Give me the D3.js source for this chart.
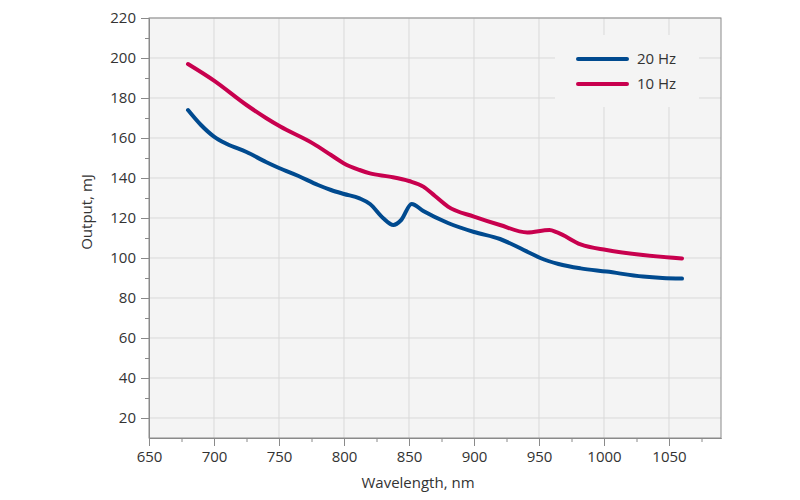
<!DOCTYPE html>
<html>
<head>
<meta charset="utf-8">
<script src="https://cdn.jsdelivr.net/npm/d3@7"></script>
<style>
  body { margin: 0; background: #fff; }
  svg text { font-family: "Open Sans", "Noto Sans", sans-serif; fill: #333; }
</style>
</head>
<body>
<svg id="chart" width="800" height="500"></svg>
<script>
// wavelength (nm) / output (mJ)
const wl20 = [680, 690, 700, 710, 725, 740, 750, 765, 780, 790, 800, 812, 820, 830, 838, 844, 852, 861, 880, 900, 920, 943, 951, 965, 982, 1002, 1030, 1045, 1060];
const out20 = [174, 166.5, 160.7, 157, 153, 148, 145, 141, 136.5, 134, 132, 129.8, 127, 120, 116.5, 119, 127, 123.5, 117.5, 113, 109.5, 102.5, 100, 97, 94.8, 93.2, 90.7, 90, 89.7];

const wl10 = [680, 700, 725, 740, 751, 776, 790, 800, 812, 820, 835, 850, 861, 870, 880, 900, 920, 941, 958, 964, 982, 1002, 1030, 1060];
const out10 = [197, 188.7, 176.5, 170, 165.7, 157.3, 151.5, 147.3, 144, 142.3, 140.7, 138.5, 135.7, 131, 125.7, 120.7, 116.5, 112.8, 114, 112.8, 106.8, 104, 101.5, 99.8];

const xTicks = [650, 700, 750, 800, 850, 900, 950, 1000, 1050];
const xMinor = [675, 725, 775, 825, 875, 925, 975, 1025, 1075];
const yTicks = [20, 40, 60, 80, 100, 120, 140, 160, 180, 200, 220];
const yMinor = [30, 50, 70, 90, 110, 130, 150, 170, 190, 210];

const seriesNames = ['20 Hz', '10 Hz'];
const colors = ['#004a8f', '#c8004e'];

const margin = { top: 18, right: 79, bottom: 62, left: 149 };
const width = 800 - margin.left - margin.right;
const height = 500 - margin.top - margin.bottom;
const fontSize = 15;

const svg = d3.select('#chart');
const g = svg.append('g').attr('transform', `translate(${margin.left},${margin.top})`);

const x = d3.scaleLinear().domain([650, 1090]).range([0, width]);
const y = d3.scaleLinear().domain([10, 220]).range([height, 0]);

// plot background
g.append('rect')
  .attr('width', width).attr('height', height)
  .attr('fill', '#f4f4f4');

// grid
g.append('g').selectAll('line').data(xTicks.slice(1)).join('line')
  .attr('x1', d => x(d)).attr('x2', d => x(d))
  .attr('y1', 0).attr('y2', height)
  .attr('stroke', '#d9d9d9').attr('stroke-width', 1);
g.append('g').selectAll('line').data(yTicks).join('line')
  .attr('x1', 0).attr('x2', width)
  .attr('y1', d => y(d)).attr('y2', d => y(d))
  .attr('stroke', '#d9d9d9').attr('stroke-width', 1);

// legend box covers the grid
const legend = g.append('g').attr('transform', `translate(${555 - margin.left},${35 - margin.top})`);
legend.append('rect').attr('width', 144).attr('height', 72).attr('fill', '#f4f4f4');

// lines
const line = d3.line()
  .x(d => x(d[0]))
  .y(d => y(d[1]))
  .curve(d3.curveMonotoneX);

const series = [d3.zip(wl20, out20), d3.zip(wl10, out10)];
g.selectAll('.series').data(series).join('path')
  .attr('class', 'series')
  .attr('d', line)
  .attr('fill', 'none')
  .attr('stroke', (d, i) => colors[i])
  .attr('stroke-width', 4)
  .attr('stroke-linecap', 'round')
  .attr('stroke-linejoin', 'round');

// border
g.append('rect')
  .attr('width', width).attr('height', height)
  .attr('fill', 'none').attr('stroke', '#8a8a8a').attr('stroke-width', 1);

// axes
const xAxis = g.append('g').attr('transform', `translate(0,${height})`)
  .call(d3.axisBottom(x).tickValues(xTicks).tickFormat(d3.format('d'))
    .tickSize(8).tickPadding(5).tickSizeOuter(0));
const xAxisMinor = g.append('g').attr('transform', `translate(0,${height})`)
  .call(d3.axisBottom(x).tickValues(xMinor).tickSize(4).tickFormat('').tickSizeOuter(0));
const yAxis = g.append('g')
  .call(d3.axisLeft(y).tickValues(yTicks).tickFormat(d3.format('d'))
    .tickSize(8).tickPadding(5).tickSizeOuter(0));
const yAxisMinor = g.append('g')
  .call(d3.axisLeft(y).tickValues(yMinor).tickSize(4).tickFormat('').tickSizeOuter(0));

[xAxis, xAxisMinor, yAxis, yAxisMinor].forEach(a => {
  a.select('.domain').attr('stroke', '#8a8a8a');
  a.selectAll('.tick line').attr('stroke', '#8a8a8a');
  a.selectAll('.tick text').attr('font-size', fontSize).attr('fill', '#333');
});

// axis titles
svg.append('text')
  .attr('x', 418).attr('y', 488)
  .attr('text-anchor', 'middle')
  .attr('font-size', fontSize)
  .text('Wavelength, nm');
svg.append('text')
  .attr('transform', 'translate(92,212) rotate(-90)')
  .attr('text-anchor', 'middle')
  .attr('font-size', fontSize)
  .text('Output, mJ');

// legend entries
seriesNames.forEach((name, i) => {
  const ly = 24 + i * 25;
  legend.append('line')
    .attr('x1', 23).attr('x2', 72)
    .attr('y1', ly).attr('y2', ly)
    .attr('stroke', colors[i]).attr('stroke-width', 4)
    .attr('stroke-linecap', 'round');
  legend.append('text')
    .attr('x', 82).attr('y', ly + 5)
    .attr('font-size', fontSize)
    .text(name);
});
</script>
</body>
</html>
